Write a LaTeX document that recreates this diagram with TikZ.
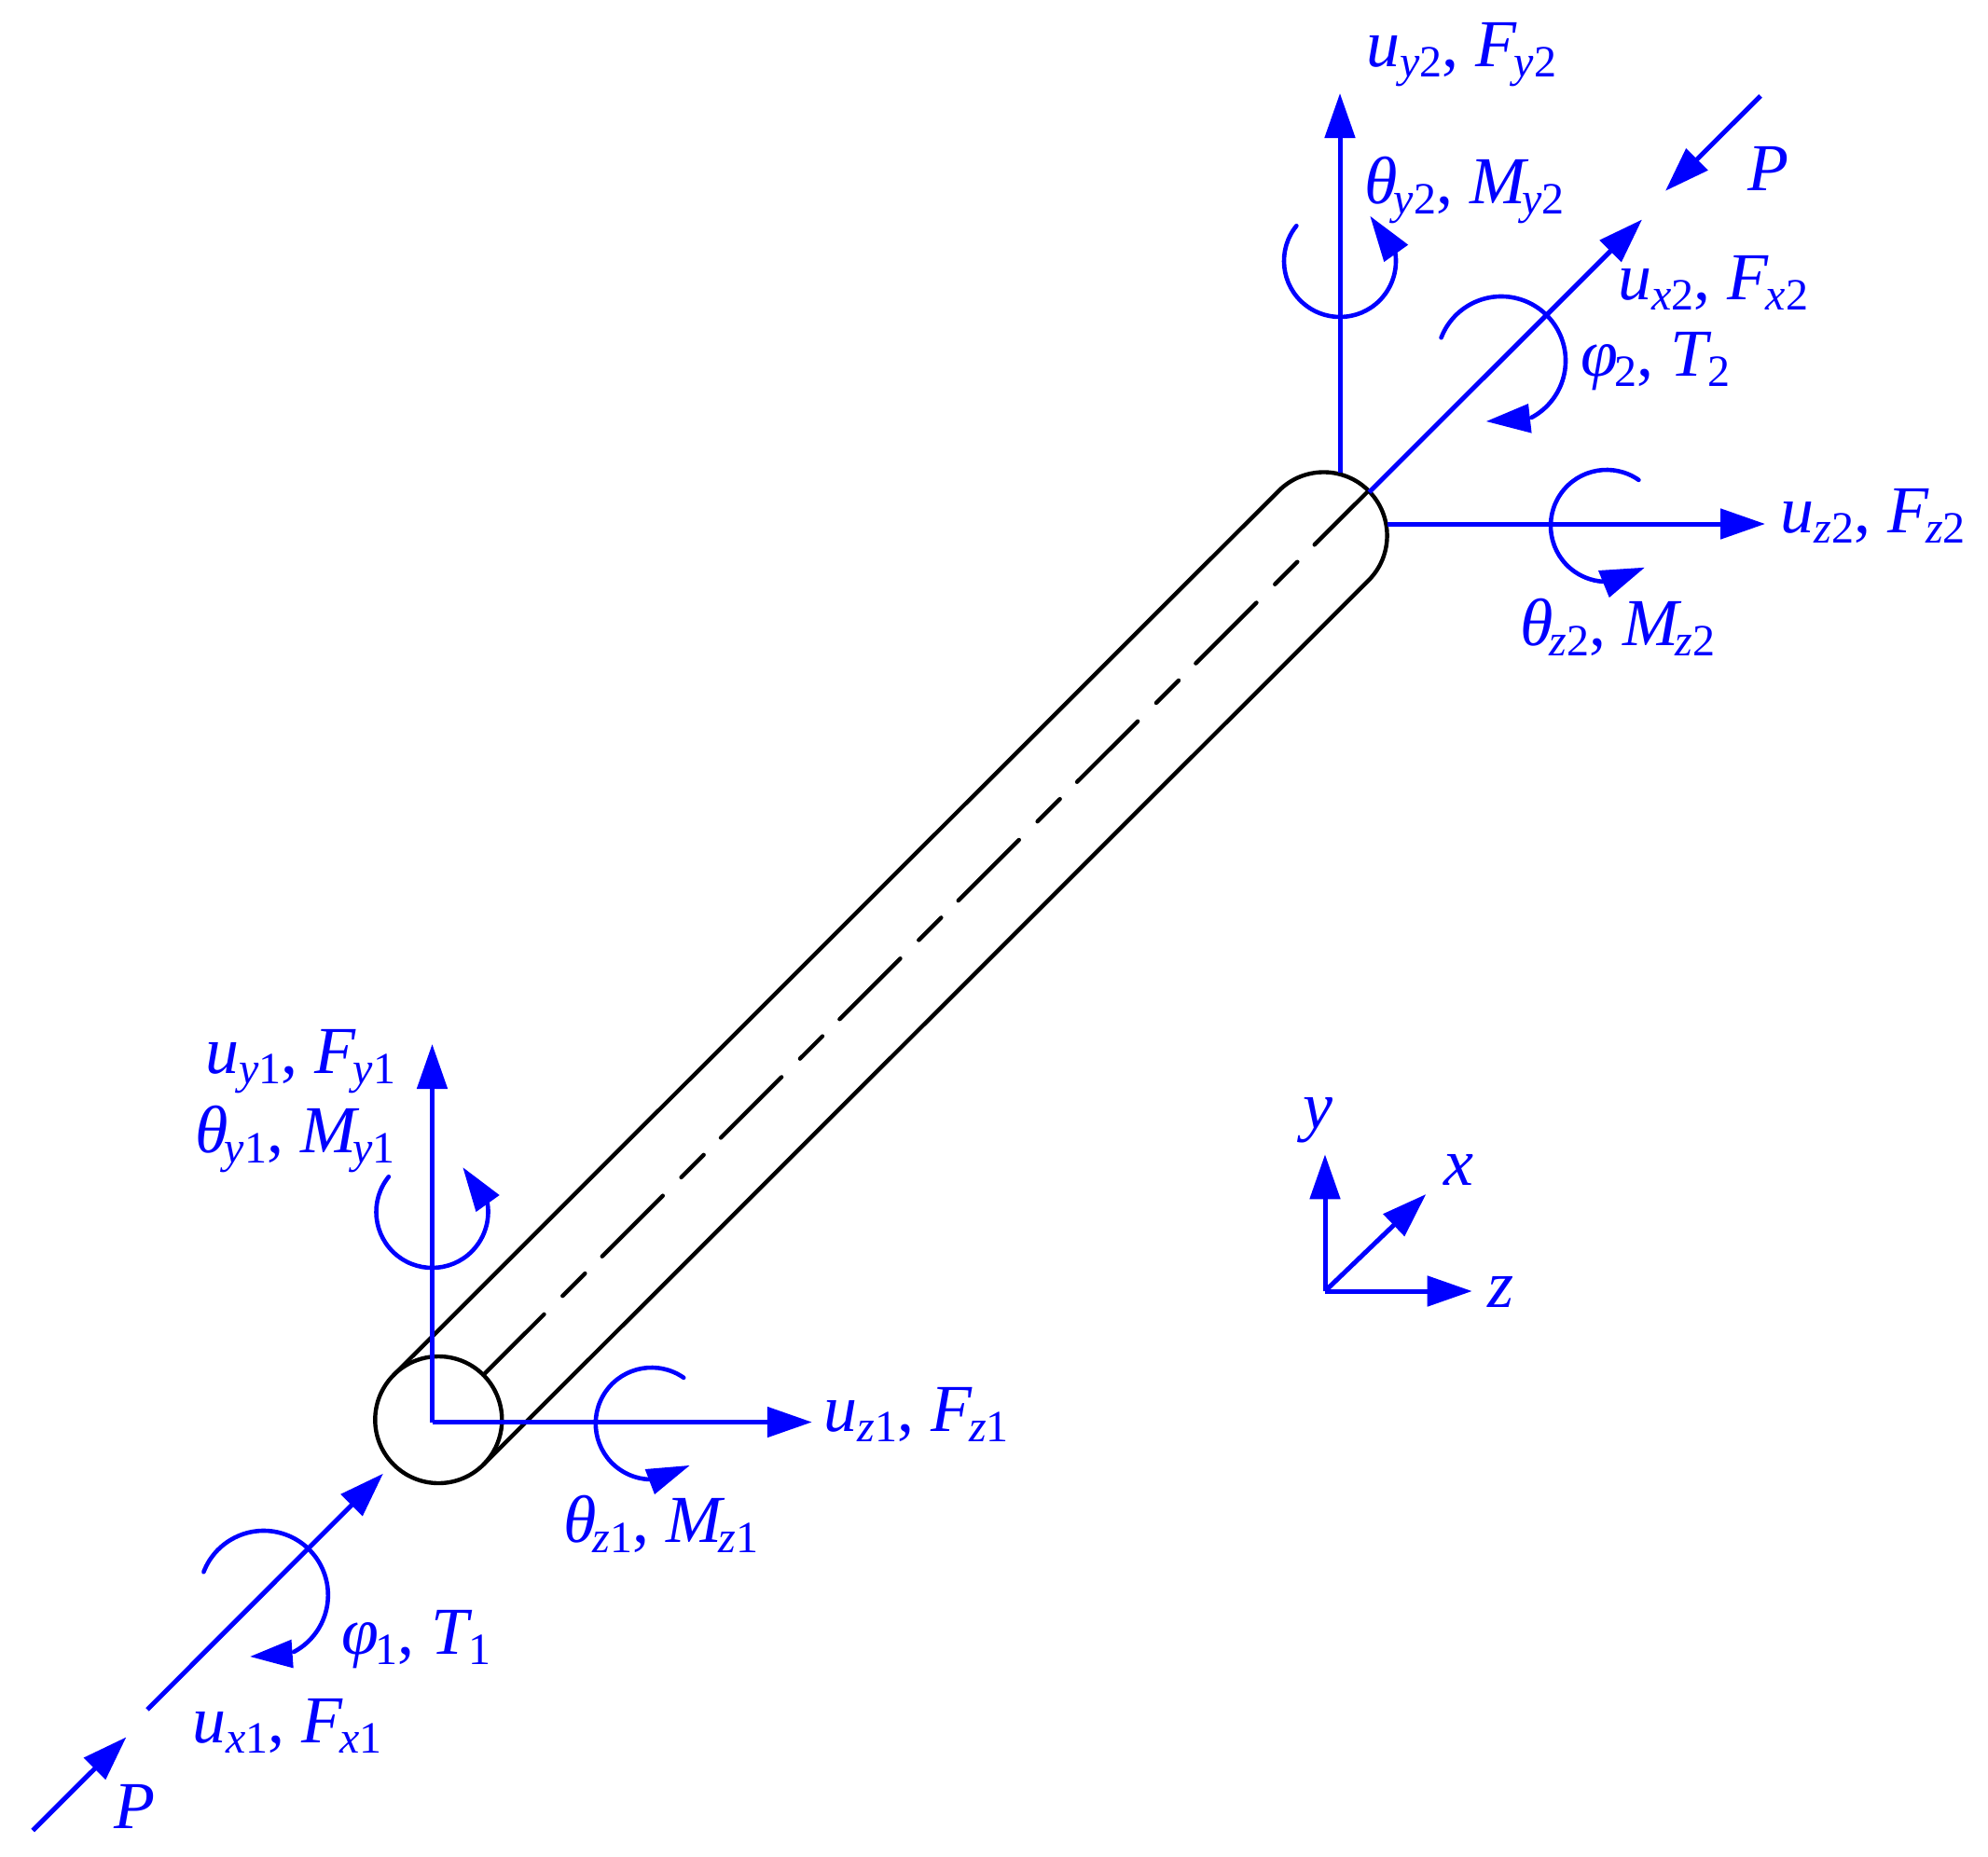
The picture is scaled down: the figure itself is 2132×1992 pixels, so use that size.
\documentclass[tikz,border=0pt]{standalone}
\usepackage{fontspec}
\setmainfont{Liberation Serif}
\usetikzlibrary{arrows.meta,calc}
\newcommand\sbs[2][0pt]{\kern#1\raisebox{-5.5pt}{\fontsize{24}{24}\selectfont #2}}
\newcommand\up[1]{\textup{#1}}
\tikzset{
  lab/.style={text=blue,inner sep=0pt,anchor=base west,font=\fontsize{36}{36}\selectfont\itshape},
  force/.style={draw=blue,line width=2.5pt,-{Triangle[length=24pt,width=16pt]}},
  moment/.style={draw=blue,line width=2.3pt,line cap=round},
  headfill/.style={fill=blue,draw=none},
  beam/.style={draw=black,line width=2.2pt,line cap=round},
  axisline/.style={beam,dash pattern=on 46pt off 14pt on 17pt off 13pt}
}
\begin{document}
\begin{tikzpicture}[x=0.5pt,y=-0.5pt]
\path[use as bounding box,fill=white] (0,0) rectangle (2132,1992);
% beam
\coordinate (c1) at (470.3,1523);
\coordinate (t1u) at (422.2,1474.9);
\coordinate (t1l) at (518.4,1571.1);
\coordinate (t1c) at (518.4,1474.9);
\coordinate (t2u) at (1371.5,526.4);
\coordinate (t2c) at (1467.7,526.4);
\draw[beam] (c1) circle[radius=34pt];
\draw[beam] (t1u) -- (t2u) arc[start angle=135,end angle=-45,radius=34pt] -- (t1l);
\draw[axisline] (t1c) -- (t2c);
% end 1 arrows
\coordinate (o1) at (463.5,1525.5);
\coordinate (y1t) at (463.5,1120);
\coordinate (z1t) at (870.8,1525.5);
\coordinate (x1s) at (158,1833.8);
\coordinate (x1t) at (410.9,1580.7);
\coordinate (p1s) at (35.2,1963.5);
\coordinate (p1t) at (135.4,1863.4);
\draw[force] (o1) -- (y1t);
\draw[force] (o1) -- (z1t);
\draw[force] (x1s) -- (x1t);
\draw[force] (p1s) -- (p1t);
\coordinate (ay1) at (463.5,1300);
\coordinate (az1) at (698.8,1527);
\coordinate (ax1) at (282.8,1711);
\draw[moment] (ay1) ++(141:30pt) arc[start angle=141,end angle=372,radius=30pt];
\fill[headfill] (496.5,1252.4) -- (535.7,1282) -- (510.5,1300) -- cycle;
\draw[moment] (az1) ++(55:30pt) arc[start angle=55,end angle=270,radius=30pt];
\fill[headfill] (739.5,1572) -- (691.7,1576) -- (702,1603) -- cycle;
\draw[moment] (ax1) ++(159:34.5pt) arc[start angle=159,end angle=-62,radius=34.5pt];
\fill[headfill] (268.3,1777) -- (312.5,1758.7) -- (314.7,1789.4) -- cycle;
% end 2 arrows
\coordinate (y2s) at (1437,507);
\coordinate (y2t) at (1437,100);
\coordinate (z2s) at (1487.7,562);
\coordinate (z2t) at (1893,562);
\coordinate (x2s) at (1468.4,528);
\coordinate (x2t) at (1761,235.5);
\coordinate (p2s) at (1888,103);
\coordinate (p2t) at (1786,204.8);
\draw[force] (y2s) -- (y2t);
\draw[force] (z2s) -- (z2t);
\draw[force] (x2s) -- (x2t);
\draw[force] (p2s) -- (p2t);
\coordinate (ay2) at (1437,280);
\coordinate (az2) at (1723,564);
\coordinate (ax2) at (1610,387);
\draw[moment] (ay2) ++(141:30pt) arc[start angle=141,end angle=372,radius=30pt];
\fill[headfill] (1469.5,232) -- (1510.2,262.6) -- (1484.3,281) -- cycle;
\draw[moment] (az2) ++(55:30pt) arc[start angle=55,end angle=270,radius=30pt];
\fill[headfill] (1763.7,608.8) -- (1714,612) -- (1725.8,641) -- cycle;
\draw[moment] (ax2) ++(159:34.5pt) arc[start angle=159,end angle=-62,radius=34.5pt];
\fill[headfill] (1594,452) -- (1639,433) -- (1642.6,464.6) -- cycle;
% global axes
\coordinate (og) at (1421,1385);
\coordinate (gy) at (1421,1238.3);
\coordinate (gz) at (1578.7,1385);
\coordinate (gx) at (1529.3,1281);
\draw[force] (og) -- (gy);
\draw[force] (og) -- (gz);
\draw[force] (og) -- (gx);
% labels
\node[lab] (luy2) at (1465,71) {u\sbs{y\up{2}}\up{,} F\sbs[-1.5pt]{y\up{2}}};
\node[lab] (lty2) at (1463,218) {θ\sbs[-2pt]{y\up{2}}\up{,} M\sbs[-2pt]{y\up{2}}};
\node[lab] (lp2) at (1874,204) {P};
\node[lab] (lux2) at (1735,321) {u\sbs{x\up{2}}\up{,} F\sbs[-1.5pt]{x\up{2}}};
\node[lab] (lph2) at (1695,403) {φ\sbs[-2pt]{\up{2}}\up{,} T\sbs{\up{2}}};
\node[lab] (luz2) at (1909,571.6) {u\sbs{z\up{2}}\up{,} F\sbs[-1.5pt]{z\up{2}}};
\node[lab] (ltz2) at (1630,692) {θ\sbs[-2pt]{z\up{2}}\up{,} M\sbs[-2pt]{z\up{2}}};
\node[lab] (luy1) at (220,1151) {u\sbs{y\up{1}}\up{,} F\sbs[-1.5pt]{y\up{1}}};
\node[lab] (lty1) at (209,1236.5) {θ\sbs[-2pt]{y\up{1}}\up{,} M\sbs[-2pt]{y\up{1}}};
\node[lab] (luz1) at (883,1535) {u\sbs{z\up{1}}\up{,} F\sbs[-1.5pt]{z\up{1}}};
\node[lab] (ltz1) at (604,1654.6) {θ\sbs[-2pt]{z\up{1}}\up{,} M\sbs[-2pt]{z\up{1}}};
\node[lab] (lph1) at (366,1774) {φ\sbs[-2pt]{\up{1}}\up{,} T\sbs{\up{1}}};
\node[lab] (lux1) at (206,1869) {u\sbs{x\up{1}}\up{,} F\sbs[-1.5pt]{x\up{1}}};
\node[lab] (lp1) at (122.5,1961.8) {P};
\node[lab] (lgy) at (1397,1210) {y};
\node[lab] (lgx) at (1548,1271.7) {x};
\node[lab] (lgz) at (1595,1402) {z};
\end{tikzpicture}
\end{document}
